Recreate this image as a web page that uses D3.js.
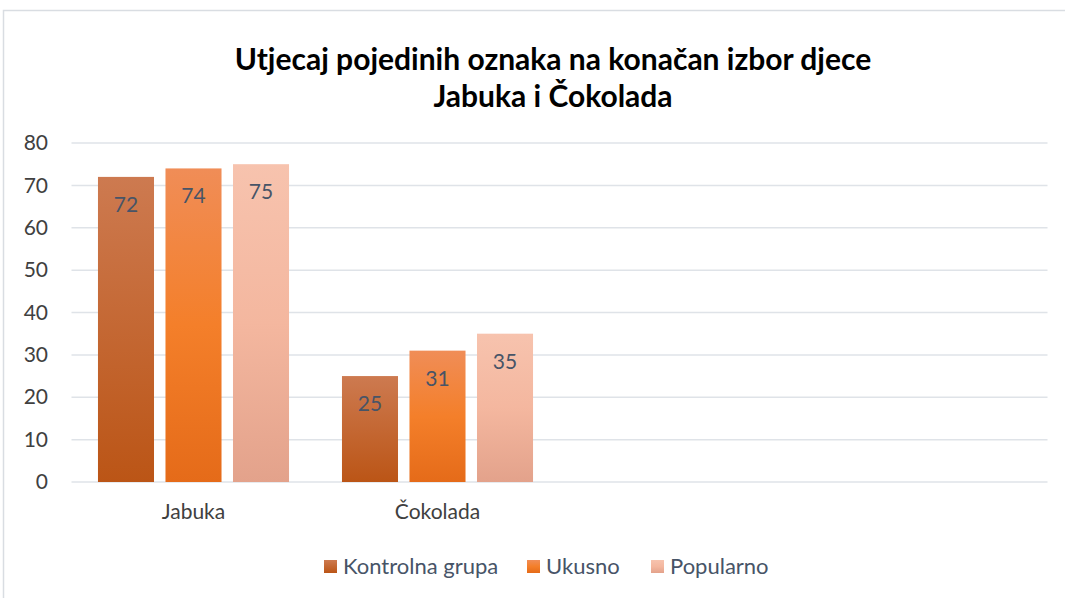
<!DOCTYPE html>
<html>
<head>
<meta charset="utf-8">
<script src="https://cdn.jsdelivr.net/npm/d3@7"></script>
<style>
  body { margin: 0; background: #fff; }
  svg text { font-family: Lato, "Open Sans", sans-serif; }
</style>
</head>
<body>
<svg id="chart" width="1065" height="598"></svg>
<script>
const categories = ["Jabuka", "Čokolada", "", " "];
const seriesNames = ["Kontrolna grupa", "Ukusno", "Popularno"];
const kontrolna = [72, 25, null, null];
const ukusno = [74, 31, null, null];
const popularno = [75, 35, null, null];
const yTicks = [0, 10, 20, 30, 40, 50, 60, 70, 80];

const series = [kontrolna, ukusno, popularno];
const gradStops = [
  ["#cd7a50", "#bb5516"],
  ["#f08d57", "#f47f2a", "#e56b19"],
  ["#f7c3ae", "#f4b79f", "#e3a28b"]
];

const svg = d3.select("#chart");
const margin = {left: 71.5, right: 1065 - 1047.5, top: 143, bottom: 598 - 482};

// chart frame
svg.append("rect")
  .attr("x", 3.5).attr("y", 10.5)
  .attr("width", 1080).attr("height", 600)
  .attr("fill", "none").attr("stroke", "#d9dde2").attr("stroke-width", 1.5);

const defs = svg.append("defs");
gradStops.forEach(function(stops, i) {
  const g = defs.append("linearGradient")
    .attr("id", "grad" + i)
    .attr("x1", 0).attr("y1", 0).attr("x2", 0).attr("y2", 1);
  stops.forEach(function(c, j) {
    g.append("stop").attr("offset", j / (stops.length - 1)).attr("stop-color", c);
  });
});

const x0 = d3.scaleBand()
  .domain(categories)
  .range([margin.left, 1065 - margin.right])
  .paddingInner(0.217)
  .paddingOuter(0.1085);

const x1 = d3.scaleBand()
  .domain(d3.range(series.length))
  .range([0, x0.bandwidth()])
  .paddingInner(0.17);

const y = d3.scaleLinear()
  .domain([0, 80])
  .range([598 - margin.bottom, margin.top]);

// gridlines
svg.append("g")
  .selectAll("line")
  .data(yTicks)
  .join("line")
  .attr("x1", margin.left).attr("x2", 1065 - margin.right)
  .attr("y1", d => y(d)).attr("y2", d => y(d))
  .attr("stroke", "#dfe3e8").attr("stroke-width", 1.5);

// y axis labels
const yAxis = d3.axisLeft(y).tickValues(yTicks).tickSize(0).tickPadding(0);
svg.append("g")
  .attr("transform", "translate(48,0)")
  .call(yAxis)
  .call(g => g.select(".domain").remove())
  .selectAll("text")
  .attr("font-size", 21)
  .attr("fill", "#404040")
  .style("font-family", "Lato, sans-serif");

// x axis labels
const xAxis = d3.axisBottom(x0).tickSize(0).tickPadding(0);
svg.append("g")
  .attr("transform", "translate(0,504)")
  .call(xAxis)
  .call(g => g.select(".domain").remove())
  .selectAll("text")
  .attr("font-size", 21)
  .attr("fill", "#404040")
  .style("font-family", "Lato, sans-serif");

// bars
const groups = svg.append("g")
  .selectAll("g")
  .data(categories)
  .join("g")
  .attr("transform", d => "translate(" + x0(d) + ",0)");

groups.each(function(cat, ci) {
  const g = d3.select(this);
  series.forEach(function(s, si) {
    const v = s[ci];
    if (v == null) return;
    g.append("rect")
      .attr("x", x1(si))
      .attr("y", y(v))
      .attr("width", x1.bandwidth())
      .attr("height", y(0) - y(v))
      .attr("fill", "url(#grad" + si + ")");
    g.append("text")
      .attr("x", x1(si) + x1.bandwidth() / 2)
      .attr("y", y(v) + 35)
      .attr("text-anchor", "middle")
      .attr("font-size", 21)
      .attr("fill", "#475467")
      .text(v);
  });
});

// title
const title = svg.append("text")
  .attr("x", 553)
  .attr("text-anchor", "middle")
  .attr("font-size", 30)
  .attr("font-weight", "bold")
  .attr("fill", "#000");
title.append("tspan").attr("x", 553).attr("y", 70).text("Utjecaj pojedinih oznaka na konačan izbor djece");
title.append("tspan").attr("x", 553).attr("y", 107).text("Jabuka i Čokolada");

// legend
const legendX = [324, 527, 651];
const legend = svg.append("g")
  .selectAll("g")
  .data(seriesNames)
  .join("g")
  .attr("transform", (d, i) => "translate(" + legendX[i] + ",560)");
legend.append("rect")
  .attr("width", 13).attr("height", 13)
  .attr("fill", (d, i) => "url(#grad" + i + ")");
legend.append("text")
  .attr("x", 19).attr("y", 14)
  .attr("font-size", 22)
  .attr("fill", "#475467")
  .text(d => d);
</script>
</body>
</html>
